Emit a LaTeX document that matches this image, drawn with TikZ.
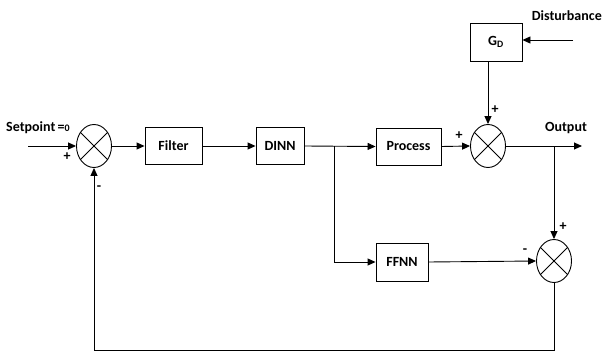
\documentclass[tikz,border=0pt]{standalone}
\usepackage{fontspec}
\setmainfont{Carlito}
\usetikzlibrary{shapes.geometric,arrows.meta}
\begin{document}
\begin{tikzpicture}[x=1pt,y=-1pt,
  every node/.style={font=\fontsize{14}{16}\selectfont\bfseries, inner sep=0pt},
  blk/.style={draw, line width=0.9pt, minimum height=37pt},
  sumj/.style={draw, ellipse, line width=0.9pt, minimum width=35pt, minimum height=43pt},
  sig/.style={line width=0.9pt},
  arr/.style={sig, -{Triangle[length=8pt,width=7pt]}},
  sgn/.style={font=\fontsize{14}{16}\selectfont\bfseries}
]
\useasboundingbox (0,0) rectangle (603,353);

% blocks
\node[blk, minimum width=57pt] (filter) at (173.5,146) {Filter};
\node[blk, minimum width=48pt] (dinn) at (280,146) {DINN};
\node[blk, minimum width=65pt] (proc) at (408.5,146.5) {Process};
\node[blk, minimum width=52pt, minimum height=38pt] (gd) at (496,42) {G\textsubscript{D}};
\node[blk, minimum width=52pt, minimum height=38pt] (ffnn) at (402,262) {FFNN};

% summing junctions
\node[sumj] (s1) at (94,146) {};
\node[sumj] (s2) at (488,146) {};
\node[sumj] (s3) at (554,261) {};
\foreach \s in {s1,s2,s3}{
  \draw[sig] (\s.45) -- (\s.225);
  \draw[sig] (\s.135) -- (\s.315);
}

% labels
\node[anchor=west] (sp) at (6,128) {Setpoint\,={\fontsize{10}{12}\selectfont 0}};
\node[anchor=east] (dist) at (602,16) {Disturbance};
\node (outl) at (566,128) {Output};
\node[sgn] (p1) at (67,157) {+};
\node[sgn] (m1) at (99,188) {-};
\node[sgn] (p2) at (495,110) {+};
\node[sgn] (p3) at (459,136) {+};
\node[sgn] (p4) at (563,227) {+};
\node[sgn] (m3) at (525,251) {-};

% coordinates
\coordinate (in) at (28,146);
\coordinate (dsrc) at (573,40);
\coordinate (out) at (582,146);
\coordinate (br1) at (334,146);
\coordinate (br2) at (554,146);
\coordinate (fbr) at (554,350);
\coordinate (fbl) at (94,350);

% connectors
\draw[arr] (in) -- (s1.west);
\draw[arr] (s1.east) -- (filter.west);
\draw[arr] (filter.east) -- (dinn.west);
\draw[arr] (dinn.east) -- (proc.west);
\draw[arr] (proc.east) -- (s2.west);
\draw[arr] (gd.south -| s2.north) -- (s2.north);
\draw[arr] (dsrc) -- (dsrc -| gd.east);
\draw[arr] (s2.east) -- (out);
\draw[arr] (br1) |- (ffnn.west);
\draw[arr] (br2) -- (s3.north);
\draw[arr] (ffnn.east) -- (s3.west);
\draw[arr] (s3.south) -- (fbr) -- (fbl) -- (s1.south);
\end{tikzpicture}
\end{document}
